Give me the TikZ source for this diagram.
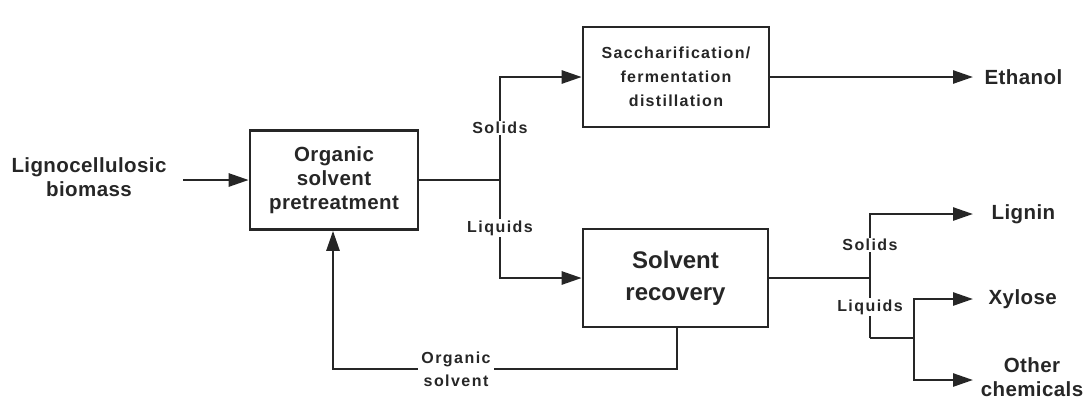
\documentclass[tikz,border=0pt]{standalone}
\usepackage{fontspec}
\setmainfont{Liberation Sans}
\usetikzlibrary{arrows.meta}
\definecolor{ink}{HTML}{262626}
\begin{document}
\begin{tikzpicture}[x=1pt,y=-1pt,
  line width=2.6pt, draw=ink, text=ink,
  box/.style={draw=ink, line width=2.6pt, minimum width=#1, align=center, inner sep=0pt},
  big/.style={font=\addfontfeature{LetterSpace=2}\fontsize{20.5}{24}\selectfont\bfseries, align=center},
  lbl/.style={font=\addfontfeature{LetterSpace=9}\fontsize{16}{23}\selectfont\bfseries, align=center, fill=white, inner sep=1.5pt},
  arr/.style={-{Triangle[length=20pt,width=13pt]}}]
\useasboundingbox (0,0) rectangle (1083,400);
% boxes
\node[box=168pt, minimum height=99pt, big] (pre) at (334,180) {Organic\\solvent\\pretreatment};
\node[box=186pt, minimum height=100pt, align=center, font=\addfontfeature{LetterSpace=8}\fontsize{16}{24}\selectfont\bfseries] (sac) at (676,77) {Saccharification/\\fermentation\\distillation};
\node[box=185pt, minimum height=98pt, font=\fontsize{24}{32}\selectfont\bfseries] (rec) at (675.5,278) {Solvent\\recovery};
% texts
\node[big] (bio) at (89,177) {Lignocellulosic\\biomass};
\node[big, anchor=west] (eth) at (980,77) {Ethanol};
\node[big, anchor=west] (lig) at (987,214) {Lignin};
\node[big, anchor=west] (xyl) at (984,299) {Xylose};
\node[big] (oth) at (1032,377) {Other\\chemicals};
% junction coordinates
\coordinate (j1) at (500,180);
\coordinate (j1t) at (500,77);
\coordinate (j1b) at (500,278);
\coordinate (j2) at (870,278);
\coordinate (j2t) at (870,214);
\coordinate (j2b) at (870,338);
\coordinate (j3) at (914,338);
\coordinate (j3t) at (914,299);
\coordinate (j3b) at (914,380);
\coordinate (r1) at (677,369);
\coordinate (r2) at (333,369);
% connectors
\draw[arr] (183,180) coordinate (bs) -- (pre.west);
\draw (pre.east |- j1) -- (j1);
\draw[arr] (j1b) -- (j1t) -- (sac.west);
\draw[arr] (j1) -- (j1b) -- (rec.west |- j1b);
\draw[arr] (sac.east) -- (973,77) coordinate (e1);
\draw (rec.east |- j2) -- (j2);
\draw[arr] (j2b) -- (j2t) -- (973,214) coordinate (e2);
\draw (j2b) -- (j3);
\draw[arr] (j3b) -- (j3t) -- (973,299) coordinate (e3);
\draw[arr] (j3t) -- (j3b) -- (973,380) coordinate (e4);
\draw[arr] (rec.south -| r1) -- (r1) -- (r2) -- (pre.south -| r2);
% labels on lines
\node[lbl] (s1) at (500,128) {Solids};
\node[lbl] (l1) at (500,228) {Liquids};
\node[lbl] (s2) at (870,245) {Solids};
\node[lbl] (l2) at (870,307) {Liquids};
\node[lbl, inner sep=3pt] (os) at (456,369) {Organic\\solvent};
\end{tikzpicture}
\end{document}
